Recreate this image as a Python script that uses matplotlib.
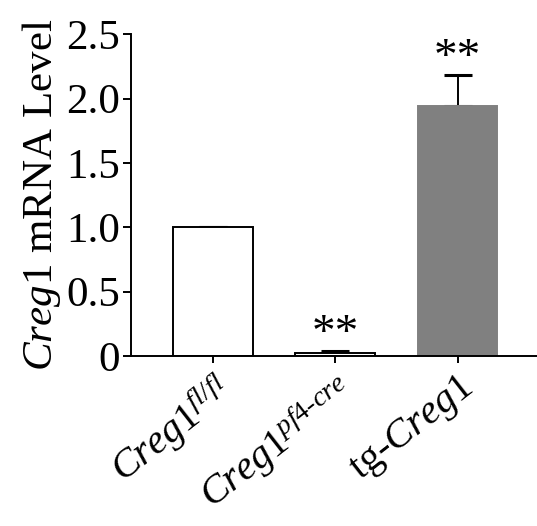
import matplotlib
matplotlib.use("Agg")
import matplotlib.pyplot as plt

plt.rcParams["font.family"] = "Liberation Serif"
plt.rcParams["mathtext.fontset"] = "custom"
plt.rcParams["mathtext.rm"] = "Liberation Serif"
plt.rcParams["mathtext.it"] = "Liberation Serif:italic"

# data
groups = [r"$\mathit{Creg1}^{\mathit{fl/fl}}$",
          r"$\mathit{Creg1}^{\mathit{pf4\text{-}cre}}$",
          r"tg-$\mathit{Creg1}$"]
means = [1.0, 0.025, 1.945]
err_up = [0.0, 0.015, 0.24]
stars = ["", "**", "**"]
fills = ["white", "white", "#808080"]
edges = ["black", "black", "#808080"]
yticks = [0, 0.5, 1.0, 1.5, 2.0, 2.5]
ytick_labels = ["0", "0.5", "1.0", "1.5", "2.0", "2.5"]

fig = plt.figure(figsize=(5.37, 5.26), dpi=100)
ax = fig.add_axes([0.244, 0.323, 0.756, 0.612])

x = range(len(groups))
ax.bar(x, means, width=0.65, color=fills, edgecolor=edges, linewidth=1.4, zorder=2)
ax.errorbar(x, means, yerr=[[0] * len(means), err_up], fmt="none",
            ecolor="black", elinewidth=1.4, capsize=10, capthick=2.2, zorder=1)

for i, (m, e, s) in enumerate(zip(means, err_up, stars)):
    if s:
        ax.text(i, m + e - 0.04, s, ha="center", va="bottom", fontsize=34)

ax.set_xlim(-0.67, 2.65)
ax.set_ylim(0, 2.5)
ax.set_yticks(yticks)
ax.set_yticklabels(ytick_labels)
ax.set_xticks(list(x))
ax.set_xticklabels(groups, rotation=38, ha="right", rotation_mode="anchor")

ax.spines["top"].set_visible(False)
ax.spines["right"].set_visible(False)
ax.spines["left"].set_linewidth(1.4)
ax.spines["bottom"].set_linewidth(1.4)
ax.tick_params(axis="y", length=6, width=1.4, pad=2, labelsize=31)
ax.tick_params(axis="x", length=5, width=1.4, pad=4, labelsize=29)

ax.set_ylabel(r"$\mathit{Creg1}$ mRNA Level", fontsize=31, labelpad=2)

plt.savefig("out.png", dpi=100)
